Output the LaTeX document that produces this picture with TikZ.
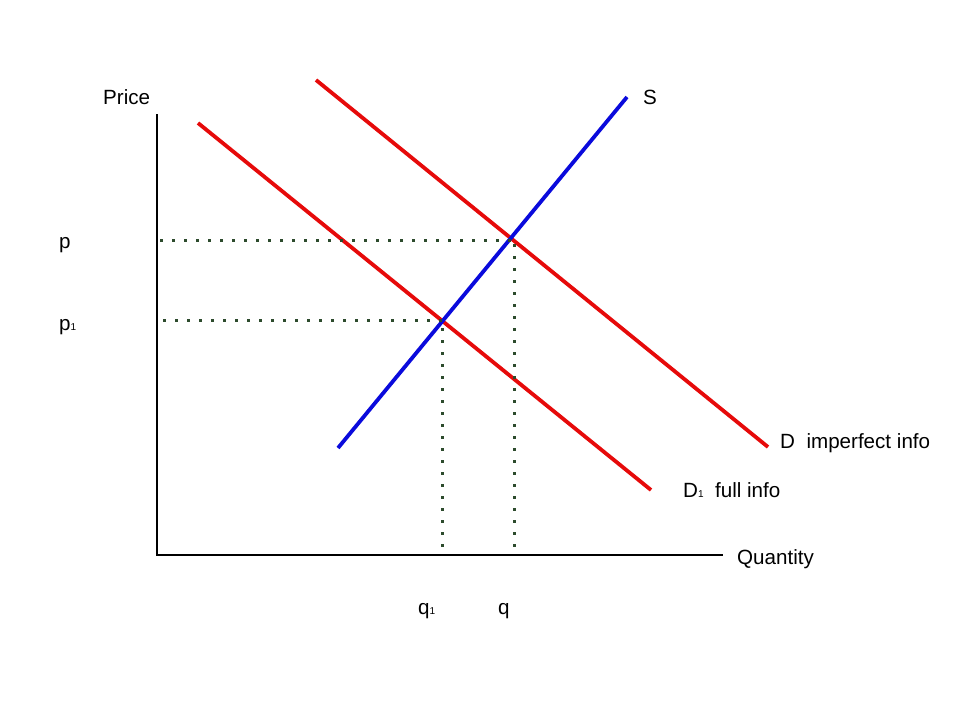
\documentclass[tikz,border=0pt]{standalone}
\usepackage{fontspec}
\setmainfont{Liberation Sans}
\begin{document}
\begin{tikzpicture}[x=1pt,y=-1pt,
  lbl/.style={anchor=base west,inner sep=0pt,font=\fontsize{20.6}{24}\selectfont},
  axis/.style={line width=1.6pt,black},
  demand/.style={line width=3.8pt,draw={rgb,255:red,230;green,10;blue,10}},
  supply/.style={line width=3.8pt,draw={rgb,255:red,10;green,10;blue,220}},
  guide/.style={line width=3pt,draw={rgb,255:red,45;green,75;blue,45},dash pattern=on 3pt off 9pt}]
\useasboundingbox (0,0) rectangle (960,720);
\newcommand{\sub}[1]{{\fontsize{10}{12}\selectfont #1}}
% axes
\coordinate (O) at (157,555);
\coordinate (Ytop) at (157,114);
\coordinate (Xend) at (723,555);
\draw[axis] (Ytop) -- (O) -- (Xend);
% curves
\coordinate (Da) at (316,80);
\coordinate (Db) at (768,447);
\coordinate (D1a) at (198,123);
\coordinate (D1b) at (651,490);
\coordinate (Sa) at (338,448);
\coordinate (Sb) at (627,97);
\draw[demand] (Da) -- (Db);
\draw[demand] (D1a) -- (D1b);
\draw[supply] (Sa) -- (Sb);
% equilibria
\coordinate (E) at (512,240);
\coordinate (E1) at (442,320);
\coordinate (Ep) at (160,240);
\coordinate (Eq) at (514,555);
\coordinate (E1p) at (163,320);
\coordinate (E1q) at (442,555);
\draw[guide] (Ep) -- (E);
\draw[guide] (E) ++(2,4) coordinate (Ev) -- (Eq);
\draw[guide] (E1p) -- (E1);
\draw[guide] (E1) ++(0,8) coordinate (E1v) -- (E1q);
% labels
\node[lbl] (price) at (103,104) {Price};
\node[lbl] (slab) at (643,104) {S};
\node[lbl] (plab) at (59,248) {p};
\node[lbl] (p1lab) at (59,330) {p\sub{1}};
\node[lbl] (dlab) at (780,448) {D\ \ imperfect info};
\node[lbl] (d1lab) at (683,497) {D\sub{1}\ \ full info};
\node[lbl] (qlab) at (737,564) {Quantity};
\node[lbl] (q1lab) at (418,614) {q\sub{1}};
\node[lbl] (qqlab) at (498,614) {q};
\end{tikzpicture}
\end{document}
